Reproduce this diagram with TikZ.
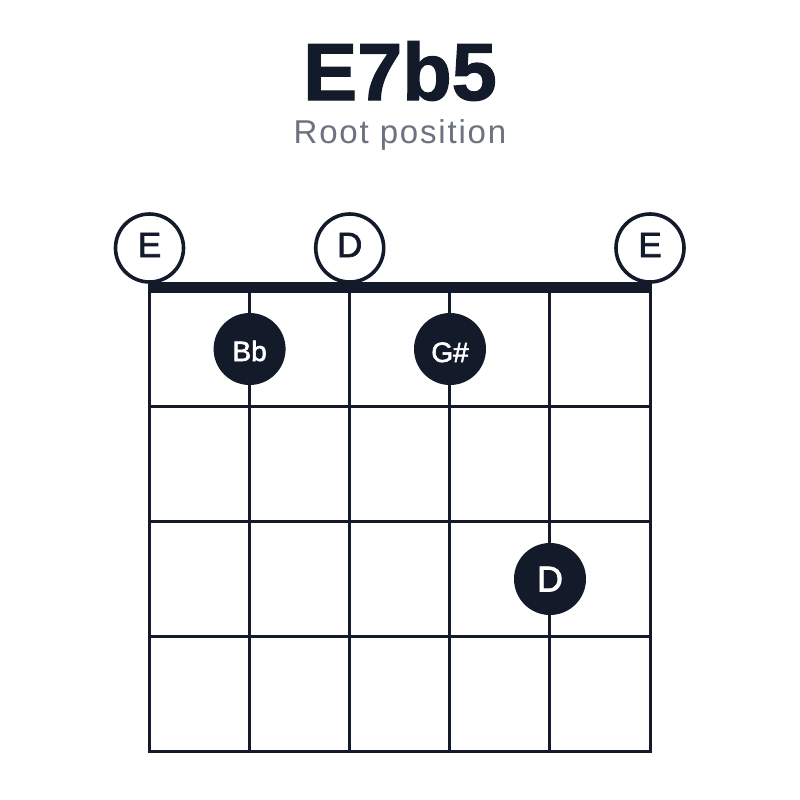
\documentclass[tikz,border=0pt]{standalone}
\usepackage{fontspec}
\setmainfont{Liberation Sans}
\newfontfamily\labelfont[FakeBold=2]{Liberation Sans}
\newfontfamily\titlefont[FakeBold=1.6]{Liberation Sans Bold}
\newfontfamily\subfont[LetterSpace=5.5]{Liberation Sans}
\definecolor{ink}{HTML}{131A29}
\definecolor{subgray}{HTML}{6B7280}
\begin{document}
\begin{tikzpicture}[x=1pt,y=-1pt,
  gridline/.style={draw=ink,line width=3pt},
  nutbar/.style={fill=ink,draw=none},
  opencirc/.style={circle,draw=ink,line width=3.6pt,fill=white,minimum size=68pt,inner sep=0pt},
  fingerdot/.style={circle,fill=ink,draw=none,minimum size=72pt,inner sep=0pt},
  lbltwo/.style={text=white,font=\labelfont\fontsize{28}{28}\selectfont,anchor=base,inner sep=0pt},
  lblone/.style={text=white,font=\labelfont\fontsize{36}{36}\selectfont,anchor=base,inner sep=0pt},
  lblopen/.style={text=ink,font=\labelfont\fontsize{35}{35}\selectfont,anchor=base,inner sep=0pt}]
\useasboundingbox[fill=white] (0,0) rectangle (800,800);
% title
\node[anchor=base,inner sep=0pt,text=ink,font=\titlefont\fontsize{81}{81}\selectfont] (title) at (400,100) {E7b5};
\node[anchor=base,inner sep=0pt,text=subgray,font=\subfont\fontsize{33}{33}\selectfont] (subtitle) at (400,143) {Root position};
% strings
\foreach \i in {0,...,5}{
  \coordinate (s\i top) at ({149.5+100.1*\i},287);
  \coordinate (s\i bot) at ({149.5+100.1*\i},753);
  \draw[gridline] (s\i top) -- (s\i bot);
}
% frets
\foreach \k in {1,...,4}{
  \coordinate (f\k l) at (148,{291.5+115*\k});
  \coordinate (f\k r) at (652,{291.5+115*\k});
  \draw[gridline] (f\k l) -- (f\k r);
}
% open strings
\node[opencirc] (o0) at (149.5,248) {};
\node[opencirc] (o2) at (349.7,248) {};
\node[opencirc] (o5) at (650,248) {};
\node[lblopen] (o0t) at (149.5,257) {E};
\node[lblopen] (o2t) at (349.7,257) {D};
\node[lblopen] (o5t) at (650,257) {E};
% nut
\fill[nutbar] (148,282) rectangle (652,293);
% fingered notes
\node[fingerdot] (d1) at (249.6,349) {};
\node[fingerdot] (d3) at (450,349) {};
\node[fingerdot] (d4) at (550,579) {};
\node[lbltwo] (d1t) at (249.6,361) {Bb};
\node[lbltwo] (d3t) at (450,362) {G\#};
\node[lblone] (d4t) at (550,591.5) {D};
\end{tikzpicture}
\end{document}
